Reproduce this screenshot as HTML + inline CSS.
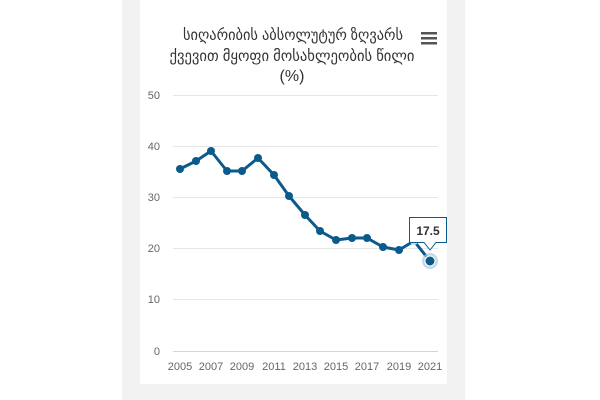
<!DOCTYPE html>
<html><head><meta charset="utf-8"><style>
html,body{margin:0;padding:0;background:#fff;}
body{width:600px;height:400px;position:relative;overflow:hidden;font-family:"Liberation Sans",sans-serif;}
</style></head><body>
<svg width="600" height="400" xmlns="http://www.w3.org/2000/svg" style="position:absolute;left:0;top:0">
<rect x="122" y="0" width="343" height="400" fill="#f2f2f2"/>
<rect x="140" y="0" width="307" height="384" fill="#fff"/>
<g font-family="'Liberation Sans','DejaVu Sans',sans-serif" font-size="15" fill="#333" text-anchor="middle">
<text x="293" y="40" textLength="220" lengthAdjust="spacingAndGlyphs">სიღარიბის აბსოლუტურ ზღვარს</text>
<text x="292" y="61" textLength="245" lengthAdjust="spacingAndGlyphs">ქვევით მყოფი მოსახლეობის წილი</text>
<text x="292" y="81" font-size="16">(%)</text>
</g>
<g fill="#555"><rect x="421" y="32" width="16" height="2.5"/><rect x="421" y="37" width="16" height="2.5"/><rect x="421" y="42" width="16" height="2.5"/></g>
<g stroke="#e6e6e6" stroke-width="1">
<line x1="173" x2="438" y1="95.5" y2="95.5"/><line x1="173" x2="438" y1="146.5" y2="146.5"/>
<line x1="173" x2="438" y1="197.5" y2="197.5"/><line x1="173" x2="438" y1="248.5" y2="248.5"/>
<line x1="173" x2="438" y1="299.5" y2="299.5"/>
</g>
<line x1="173" x2="438" y1="351.5" y2="351.5" stroke="#ccd6eb"/>
<g font-size="11" fill="#666" text-anchor="end">
<text x="160" y="99">50</text><text x="160" y="150">40</text><text x="160" y="201">30</text>
<text x="160" y="252">20</text><text x="160" y="303">10</text><text x="160" y="355">0</text>
</g>
<g font-size="11" fill="#666" text-anchor="middle">
<text x="180" y="370">2005</text><text x="211" y="370">2007</text><text x="242" y="370">2009</text>
<text x="274" y="370">2011</text><text x="305" y="370">2013</text><text x="336" y="370">2015</text>
<text x="367" y="370">2017</text><text x="399" y="370">2019</text><text x="430" y="370">2021</text>
</g>
<polyline fill="none" stroke="#0b5a8c" stroke-width="3" stroke-linejoin="round" points="180,169 196,161 211,151 227,171 242,171 258,158 274,175 289,196 305,215 320,231 336,240 352,238 367,238 383,247 399,250 414,241 430,261"/>
<g fill="#0b5a8c">
<circle cx="180" cy="169" r="4"/><circle cx="196" cy="161" r="4"/><circle cx="211" cy="151" r="4"/><circle cx="227" cy="171" r="4"/><circle cx="242" cy="171" r="4"/><circle cx="258" cy="158" r="4"/><circle cx="274" cy="175" r="4"/><circle cx="289" cy="196" r="4"/><circle cx="305" cy="215" r="4"/><circle cx="320" cy="231" r="4"/><circle cx="336" cy="240" r="4"/><circle cx="352" cy="238" r="4"/><circle cx="367" cy="238" r="4"/><circle cx="383" cy="247" r="4"/><circle cx="399" cy="250" r="4"/>
</g>
<circle cx="414" cy="241" r="4" fill="#c5d8e6"/>
<circle cx="430" cy="261" r="8" fill="#a9c9de" opacity="0.7"/>
<circle cx="430" cy="261" r="5" fill="#0b5a8c" stroke="#fff" stroke-width="1"/>
<path d="M409.5,217.5 H446.5 V242.5 H436 L430,250 L424,242.5 H409.5 Z" fill="#fff" stroke="#0b5a8c" stroke-width="1"/>
<text x="428" y="235" font-size="12" font-weight="bold" fill="#333" text-anchor="middle">17.5</text>
</svg>
</body></html>
